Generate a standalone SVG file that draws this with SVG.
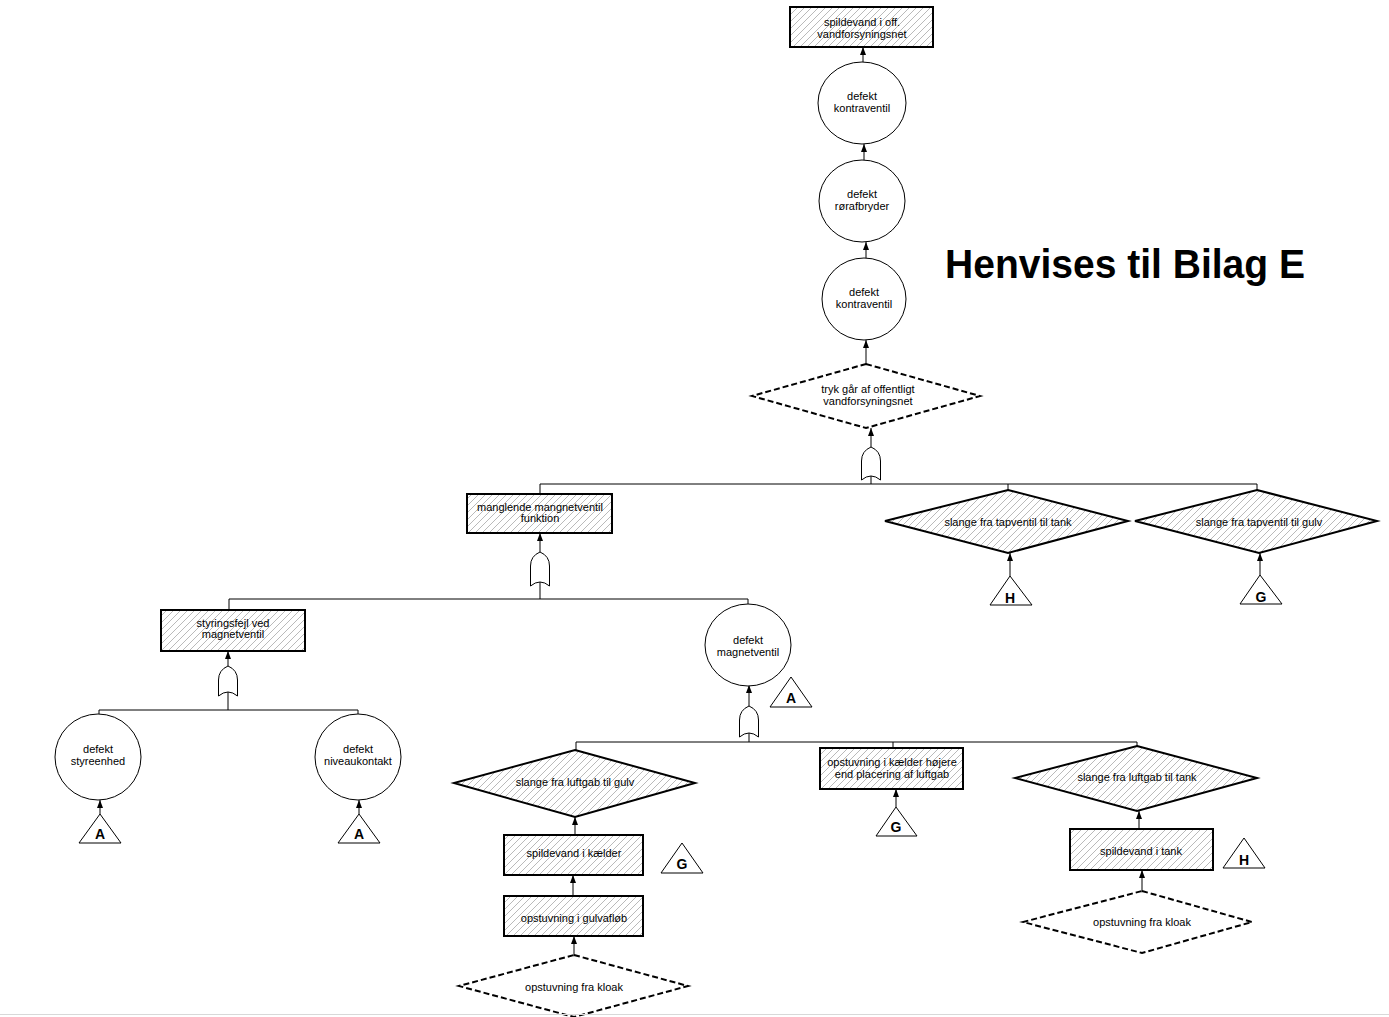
<svg xmlns="http://www.w3.org/2000/svg" width="1389" height="1017" viewBox="0 0 1389 1017">
<defs>
<pattern id="hatch" patternUnits="userSpaceOnUse" width="7" height="7">
<path d="M-1,8 L8,-1 M-1,1 L1,-1 M6,8 L8,6" stroke="#a8a8a8" stroke-width="0.8"/>
</pattern>
<marker id="arr" viewBox="0 0 8 6" refX="8" refY="3" markerWidth="8" markerHeight="6" markerUnits="userSpaceOnUse" orient="auto">
<path d="M0,0 L8,3 L0,6 Z" fill="#000"/>
</marker>
</defs>
<style>
text{font-family:"Liberation Sans",Arial,sans-serif;font-size:11px;fill:#000;text-anchor:middle}
.lbl{font-weight:bold;font-size:14px}
.title{font-weight:bold;font-size:40px;text-anchor:start}
.box{fill:url(#hatch);stroke:#000;stroke-width:2}
.dia{fill:url(#hatch);stroke:#000;stroke-width:2}
.ddia{fill:#fff;stroke:#000;stroke-width:2;stroke-dasharray:6,3}
.circ{fill:#fff;stroke:#000;stroke-width:1}
.tri{fill:#fff;stroke:#000;stroke-width:1}
.gate{fill:#fff;stroke:#000;stroke-width:1}
.c{stroke:#000;stroke-width:1;fill:none}
.a{stroke:#000;stroke-width:1;fill:none;marker-end:url(#arr)}
</style>
<rect width="1389" height="1017" fill="#fff"/>

<g id="connectors">
<line class="a" x1="863" y1="62" x2="863" y2="47"/>
<line class="a" x1="864" y1="160" x2="864" y2="144"/>
<line class="a" x1="866" y1="258" x2="866" y2="242"/>
<line class="a" x1="866" y1="364" x2="866" y2="340"/>
<line class="a" x1="871" y1="447" x2="871" y2="428"/>
<line class="c" x1="871" y1="484" x2="871" y2="475"/>
<polyline class="c" points="540,494 540,484 1257,484 1257,490"/>
<line class="c" x1="1008" y1="484" x2="1008" y2="490"/>
<line class="a" x1="1010" y1="576" x2="1010" y2="553"/>
<line class="a" x1="1260" y1="575" x2="1260" y2="553"/>
<line class="a" x1="540" y1="552" x2="540" y2="533"/>
<line class="c" x1="540" y1="599" x2="540" y2="581"/>
<polyline class="c" points="229,610 229,599 748,599 748,605"/>
<line class="a" x1="228" y1="666" x2="228" y2="651"/>
<line class="c" x1="228" y1="710" x2="228" y2="691"/>
<polyline class="c" points="99,714 99,710 358,710 358,714"/>
<line class="a" x1="100" y1="814" x2="100" y2="800"/>
<line class="a" x1="359" y1="814" x2="359" y2="800"/>
<line class="a" x1="749" y1="706" x2="749" y2="685"/>
<line class="c" x1="749" y1="742" x2="749" y2="732"/>
<polyline class="c" points="576,750 576,742 1137,742 1137,746"/>
<line class="c" x1="893" y1="742" x2="893" y2="748"/>
<line class="a" x1="896" y1="807" x2="896" y2="789"/>
<line class="a" x1="575" y1="835" x2="575" y2="817"/>
<line class="a" x1="573" y1="896" x2="573" y2="875"/>
<line class="a" x1="574" y1="955" x2="574" y2="936"/>
<line class="a" x1="1139" y1="829" x2="1139" y2="811"/>
<line class="a" x1="1142" y1="891" x2="1142" y2="870"/>
</g>

<g id="gates">
<path class="gate" d="M861.5,480 L861.5,461 Q861.5,451 871,447 Q880.5,451 880.5,461 L880.5,480 Q871,472 861.5,480 Z"/>
<path class="gate" d="M530.5,586 L530.5,566 Q530.5,556 540,552 Q549.5,556 549.5,566 L549.5,586 Q540,578 530.5,586 Z"/>
<path class="gate" d="M218.5,696 L218.5,680 Q218.5,670 228,666 Q237.5,670 237.5,680 L237.5,696 Q228,688 218.5,696 Z"/>
<path class="gate" d="M739.5,737 L739.5,720 Q739.5,710 749,706 Q758.5,710 758.5,720 L758.5,737 Q749,729 739.5,737 Z"/>
</g>

<g id="n-top">
<rect class="box" x="790" y="7" width="143" height="40"/>
<text x="862" y="26">spildevand i off.</text>
<text x="862" y="38">vandforsyningsnet</text>
</g>
<g id="n-kontraventil1">
<ellipse class="circ" cx="862" cy="103" rx="44" ry="41"/>
<text x="862" y="100">defekt</text>
<text x="862" y="112">kontraventil</text>
</g>
<g id="n-roerafbryder">
<ellipse class="circ" cx="862" cy="201" rx="43" ry="41"/>
<text x="862" y="198">defekt</text>
<text x="862" y="210">rørafbryder</text>
</g>
<g id="n-kontraventil2">
<ellipse class="circ" cx="864" cy="299" rx="42" ry="41"/>
<text x="864" y="296">defekt</text>
<text x="864" y="308">kontraventil</text>
</g>
<g id="n-tryk">
<polygon class="ddia" points="866,364 980,396 866,428 752,396"/>
<text x="868" y="393">tryk går af offentligt</text>
<text x="868" y="405">vandforsyningsnet</text>
</g>

<g id="n-manglende">
<rect class="box" x="467" y="494" width="145" height="39"/>
<text x="540" y="511">manglende mangnetventil</text>
<text x="540" y="522">funktion</text>
</g>
<g id="n-tapventil-tank">
<polygon class="dia" points="1008,490 1128,521 1008,553 885,521"/>
<text x="1008" y="526">slange fra tapventil til tank</text>
</g>
<g id="n-tapventil-gulv">
<polygon class="dia" points="1257,490 1377,521 1259,553 1135,521"/>
<text x="1259" y="526">slange fra tapventil til gulv</text>
</g>
<g id="t-H1">
<polygon class="tri" points="1010,576 990,605 1032,605"/>
<text class="lbl" x="1010" y="603">H</text>
</g>
<g id="t-G1">
<polygon class="tri" points="1260,575 1240,604 1282,604"/>
<text class="lbl" x="1261" y="602">G</text>
</g>

<g id="n-styringsfejl">
<rect class="box" x="161" y="610" width="144" height="41"/>
<text x="233" y="627">styringsfejl ved</text>
<text x="233" y="638">magnetventil</text>
</g>
<g id="n-styreenhed">
<ellipse class="circ" cx="98" cy="757" rx="43" ry="43"/>
<text x="98" y="753">defekt</text>
<text x="98" y="765">styreenhed</text>
</g>
<g id="n-niveaukontakt">
<ellipse class="circ" cx="358" cy="757" rx="43" ry="43"/>
<text x="358" y="753">defekt</text>
<text x="358" y="765">niveaukontakt</text>
</g>
<g id="t-A1">
<polygon class="tri" points="100,814 79,843 121,843"/>
<text class="lbl" x="100" y="839">A</text>
</g>
<g id="t-A2">
<polygon class="tri" points="359,814 338,843 380,843"/>
<text class="lbl" x="359" y="839">A</text>
</g>

<g id="n-magnetventil">
<ellipse class="circ" cx="748" cy="645" rx="43" ry="41"/>
<text x="748" y="644">defekt</text>
<text x="748" y="656">magnetventil</text>
</g>
<g id="t-A3">
<polygon class="tri" points="791,677 770,707 812,707"/>
<text class="lbl" x="791" y="703">A</text>
</g>

<g id="n-luftgab-gulv">
<polygon class="dia" points="575,750 695,783 575,817 454,783"/>
<text x="575" y="786">slange fra luftgab til gulv</text>
</g>
<g id="n-kaelder-hoejere">
<rect class="box" x="820" y="748" width="143" height="41"/>
<text x="892" y="766">opstuvning i kælder højere</text>
<text x="892" y="778">end placering af luftgab</text>
</g>
<g id="t-G2">
<polygon class="tri" points="896,807 876,836 917,836"/>
<text class="lbl" x="896" y="832">G</text>
</g>
<g id="n-luftgab-tank">
<polygon class="dia" points="1137,746 1257,778 1137,811 1015,778"/>
<text x="1137" y="781">slange fra luftgab til tank</text>
</g>

<g id="n-spildevand-kaelder">
<rect class="box" x="504" y="835" width="139" height="40"/>
<text x="574" y="857">spildevand i kælder</text>
</g>
<g id="t-G3">
<polygon class="tri" points="682,843 661,873 703,873"/>
<text class="lbl" x="682" y="869">G</text>
</g>
<g id="n-gulvafloeb">
<rect class="box" x="504" y="896" width="139" height="40"/>
<text x="574" y="922">opstuvning i gulvafløb</text>
</g>
<g id="n-kloak1">
<polygon class="ddia" points="574,955 688,986 574,1017 459,986"/>
<text x="574" y="991">opstuvning fra kloak</text>
</g>

<g id="n-spildevand-tank">
<rect class="box" x="1070" y="829" width="143" height="41"/>
<text x="1141" y="855">spildevand i tank</text>
</g>
<g id="t-H2">
<polygon class="tri" points="1244,838 1223,868 1265,868"/>
<text class="lbl" x="1244" y="865">H</text>
</g>
<g id="n-kloak2">
<polygon class="ddia" points="1142,891 1252,922 1142,953 1023,922"/>
<text x="1142" y="926">opstuvning fra kloak</text>
</g>

<text class="title" x="945" y="278" textLength="360" lengthAdjust="spacingAndGlyphs">Henvises til Bilag E</text>
<line x1="0" y1="1014.5" x2="1389" y2="1014.5" stroke="#d8d8d8" stroke-width="1"/>
</svg>
